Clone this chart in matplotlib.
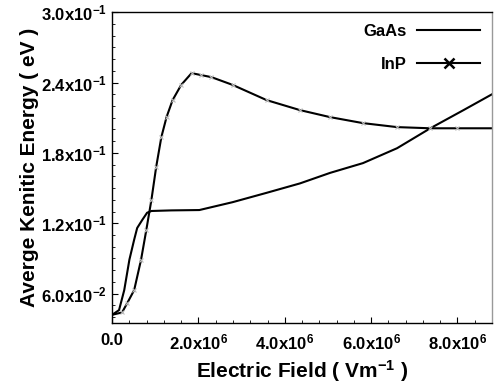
import matplotlib
matplotlib.use("Agg")
import matplotlib.pyplot as plt
from matplotlib.lines import Line2D
from matplotlib.ticker import FixedLocator, AutoMinorLocator

plt.rcParams['font.family'] = ['Liberation Sans', 'DejaVu Sans']
plt.rcParams['mathtext.fontset'] = 'custom'
plt.rcParams['mathtext.rm'] = 'Liberation Sans:bold'
plt.rcParams['mathtext.bf'] = 'Liberation Sans:bold'
plt.rcParams['mathtext.default'] = 'bf'

# GaAs
gaas_E = [0.0, 0.16e6, 0.28e6, 0.40e6, 0.51e6, 0.58e6, 0.70e6, 0.81e6, 0.91e6,
          1.37e6, 2.02e6, 2.79e6, 3.58e6, 4.35e6, 5.05e6, 5.81e6, 6.6e6,
          7.37e6, 8.14e6, 8.8e6]
gaas_W = [0.042, 0.046, 0.063, 0.089, 0.106, 0.116, 0.123, 0.129, 0.1305,
          0.131, 0.1313, 0.138, 0.146, 0.154, 0.163, 0.1713, 0.184,
          0.201, 0.2165, 0.230]
# InP
inp_E = [0.0, 0.23e6, 0.35e6, 0.51e6, 0.67e6, 0.79e6, 0.91e6, 1.02e6, 1.14e6,
         1.26e6, 1.40e6, 1.60e6, 1.84e6, 2.07e6, 2.30e6, 2.79e6, 3.58e6,
         4.35e6, 5.05e6, 5.81e6, 6.6e6, 7.37e6, 8.0e6, 8.8e6]
inp_W = [0.042, 0.044, 0.052, 0.063, 0.089, 0.114, 0.140, 0.168, 0.1935,
         0.2105, 0.225, 0.238, 0.248, 0.2463, 0.2446, 0.238, 0.225,
         0.2165, 0.2105, 0.2054, 0.202, 0.201, 0.201, 0.201]

x_ticks = [0, 2e6, 4e6, 6e6, 8e6]
x_labels = ['0.0', r'2.0x10$^{6}$', r'4.0x10$^{6}$', r'6.0x10$^{6}$', r'8.0x10$^{6}$']
y_ticks = [0.06, 0.12, 0.18, 0.24, 0.30]
y_labels = [r'6.0x10$^{-2}$', r'1.2x10$^{-1}$', r'1.8x10$^{-1}$', r'2.4x10$^{-1}$', r'3.0x10$^{-1}$']

fig = plt.figure(figsize=(4.94, 3.92), dpi=100)
ax = fig.add_axes([0.227, 0.176, 0.769, 0.793])

ax.plot(gaas_E, gaas_W, color='black', lw=1.5)
ax.plot(inp_E, inp_W, color='black', lw=1.5)
ax.plot(inp_E[1:-1], inp_W[1:-1], ls='none', marker='x', ms=3, mew=0.8, color='#bbbbbb')

ax.set_xlim(0, 8.8e6)
ax.set_ylim(0.035, 0.30)
ax.xaxis.set_major_locator(FixedLocator(x_ticks))
ax.set_xticklabels(x_labels)
ax.yaxis.set_major_locator(FixedLocator(y_ticks))
ax.set_yticklabels(y_labels)
ax.xaxis.set_minor_locator(AutoMinorLocator(5))
ax.yaxis.set_minor_locator(AutoMinorLocator(6))
ax.tick_params(which='both', direction='in', labelsize=12)
ax.tick_params(axis='x', which='major', pad=7)
ax.tick_params(which='major', length=4)
ax.tick_params(which='minor', length=2)
for lab in ax.get_xticklabels() + ax.get_yticklabels():
    lab.set_fontweight('bold')

ax.set_xlabel(r'Electric Field ( Vm$^{-1}$ )', fontsize=15, fontweight='bold', labelpad=4)
ax.set_ylabel('Averge Kenitic Energy ( eV )', fontsize=15, fontweight='bold', labelpad=2)

handles = [Line2D([], [], color='black', lw=1.5),
           Line2D([], [], color='black', lw=1.5, marker='x', ms=7, mew=1.8)]
leg = ax.legend(handles, ['GaAs', 'InP'], loc='upper right', frameon=False,
                markerfirst=False, prop={'weight': 'bold', 'size': 12},
                handlelength=3.8, handletextpad=0.6, labelspacing=1.1,
                borderaxespad=0.3)

for s in ax.spines.values():
    s.set_linewidth(1.0)
ax.spines['right'].set_color('#999999')

fig.savefig('out.png', dpi=100)
